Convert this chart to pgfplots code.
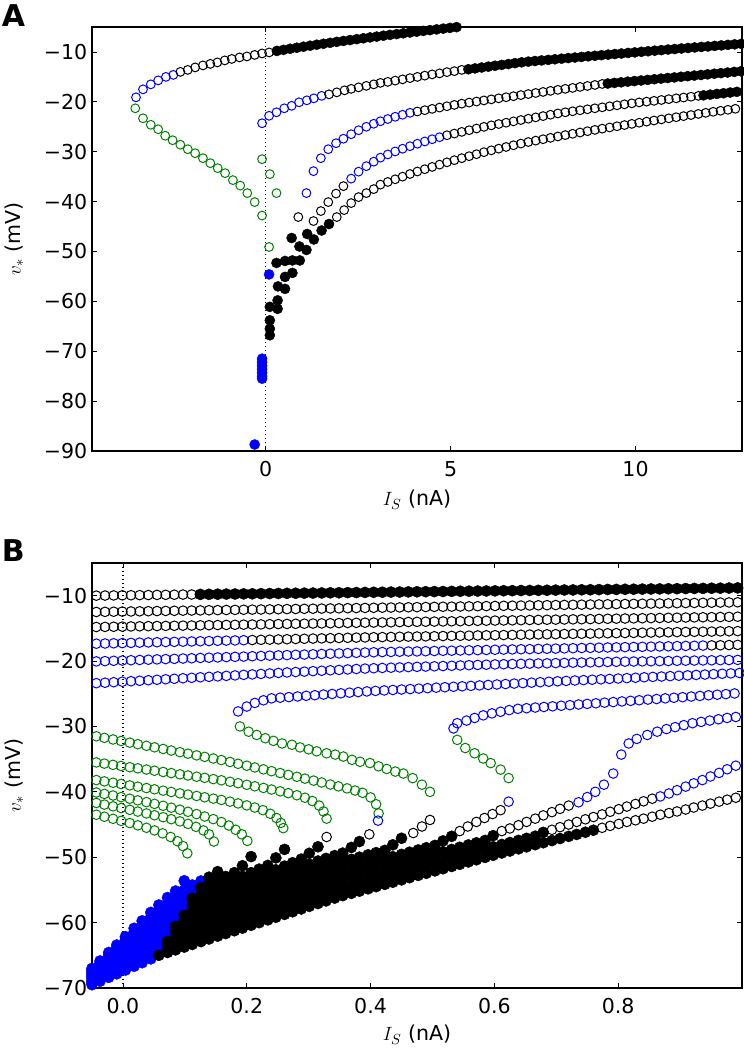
\documentclass[border=0pt]{standalone}
\usepackage{fontspec}
\setmainfont{DejaVu Sans}
\usepackage{pgfplots}
\usepackage{pgfplotstable}
\pgfplotsset{compat=1.18}
\definecolor{mblue}{rgb}{0,0,1}
\definecolor{mgreen}{rgb}{0,0.5,0}

% lower branches (filled family) in panel B
\pgfplotstableread{
x c0 c1 c2 c3 c4 c5 c6 c7 c8 c9 c10
-0.050 -69.50 -69.25 -69.00 -68.75 -68.50 -68.25 -68.00 -67.75 -67.50 -67.25 -67.00
-0.037 -68.96 -68.65 -68.34 -68.03 -67.72 -67.41 -67.10 -66.79 -66.48 -66.17 -65.86
-0.023 -68.37 -67.99 -67.61 -67.23 -66.85 -66.47 -66.09 -65.71 -65.33 -64.95 -64.57
-0.010 -67.83 -67.39 -66.95 -66.51 -66.07 -65.63 -65.19 -64.75 -64.31 -63.87 -63.43
0.004 -67.25 -66.74 -66.23 -65.72 -65.21 -64.70 -64.19 -63.68 -63.17 -62.66 -62.15
0.018 -66.67 -66.09 -65.51 -64.93 -64.35 -63.77 -63.19 -62.61 -62.03 -61.45 -60.87
0.031 -66.13 -65.49 -64.85 -64.21 -63.57 -62.93 -62.29 -61.65 -61.01 -60.37 -59.73
0.045 -65.54 -64.83 -64.12 -63.41 -62.70 -61.99 -61.28 -60.57 -59.86 -59.15 -58.44
0.058 -65.00 -64.23 -63.46 -62.69 -61.92 -61.15 -60.38 -59.61 -58.84 -58.07 -57.30
0.072 -64.57 -63.73 -62.89 -62.05 -61.21 -60.37 -59.53 -58.69 -57.85 -57.01 -56.17
0.085 -64.17 -63.27 -62.37 -61.47 -60.57 -59.67 -58.77 -57.87 -56.97 -56.07 -55.17
0.099 -63.74 -62.77 -61.80 -60.83 -59.86 -58.89 -57.92 -56.95 -55.98 -55.01 -53.60
0.112 -63.34 -62.33 -61.32 -60.31 -59.30 -58.29 -57.28 -56.27 -55.26 -54.25 nan
0.126 -62.90 -61.87 -60.84 -59.81 -58.78 -57.75 -56.72 -55.69 -54.66 -53.63 nan
0.139 -62.50 -61.45 -60.40 -59.35 -58.30 -57.25 -56.20 -55.15 -54.10 -53.05 nan
0.153 -62.07 -61.00 -59.93 -58.86 -57.79 -56.72 -55.65 -54.58 -53.51 -52.20 nan
0.166 -61.67 -60.58 -59.49 -58.40 -57.31 -56.22 -55.13 -54.04 -52.95 nan nan
0.180 -61.24 -60.13 -59.02 -57.91 -56.80 -55.69 -54.58 -53.47 -52.36 nan nan
0.193 -60.84 -59.71 -58.58 -57.45 -56.32 -55.19 -54.06 -52.93 -51.30 nan nan
0.207 -60.41 -59.26 -58.11 -56.96 -55.81 -54.66 -53.51 -52.36 -49.90 nan nan
0.220 -60.01 -58.84 -57.67 -56.50 -55.33 -54.16 -52.99 -51.82 nan nan nan
0.234 -59.58 -58.39 -57.20 -56.01 -54.82 -53.63 -52.44 -51.25 nan nan nan
0.247 -59.18 -57.97 -56.76 -55.55 -54.34 -53.13 -51.92 -50.10 nan nan nan
0.261 -58.74 -57.51 -56.28 -55.05 -53.82 -52.59 -51.36 -48.80 nan nan nan
0.274 -58.34 -57.09 -55.84 -54.59 -53.34 -52.09 -50.84 nan nan nan nan
0.288 -57.91 -56.64 -55.37 -54.10 -52.83 -51.56 -50.29 nan nan nan nan
0.301 -57.51 -56.22 -54.93 -53.64 -52.35 -51.06 -49.40 nan nan nan nan
0.315 -57.08 -55.78 -54.48 -53.18 -51.88 -50.58 -48.40 nan nan nan nan
0.328 -56.68 -55.38 -54.08 -52.78 -51.48 -50.18 nan nan nan nan nan
0.342 -56.25 -54.95 -53.65 -52.35 -51.05 -49.75 nan nan nan nan nan
0.355 -55.87 -54.57 -53.27 -51.97 -50.67 -49.37 nan nan nan nan nan
0.369 -55.52 -54.22 -52.92 -51.62 -50.32 -48.50 nan nan nan nan nan
0.382 -55.19 -53.89 -52.59 -51.29 -49.99 -47.60 nan nan nan nan nan
0.396 -54.83 -53.53 -52.23 -50.93 -49.63 nan nan nan nan nan nan
0.409 -54.50 -53.20 -51.90 -50.60 -49.30 nan nan nan nan nan nan
0.423 -54.15 -52.85 -51.55 -50.25 -48.95 nan nan nan nan nan nan
0.436 -53.82 -52.52 -51.22 -49.92 -48.10 nan nan nan nan nan nan
0.450 -53.46 -52.16 -50.86 -49.56 -47.10 nan nan nan nan nan nan
0.463 -53.13 -51.83 -50.53 -49.23 nan nan nan nan nan nan nan
0.477 -52.78 -51.48 -50.18 -48.88 nan nan nan nan nan nan nan
0.490 -52.45 -51.15 -49.85 -48.55 nan nan nan nan nan nan nan
0.504 -52.09 -50.79 -49.49 -48.19 nan nan nan nan nan nan nan
0.517 -51.76 -50.46 -49.16 -47.50 nan nan nan nan nan nan nan
0.531 -51.41 -50.11 -48.81 -46.80 nan nan nan nan nan nan nan
0.544 -51.08 -49.78 -48.48 nan nan nan nan nan nan nan nan
0.558 -50.72 -49.42 -48.12 nan nan nan nan nan nan nan nan
0.571 -50.39 -49.09 -47.79 nan nan nan nan nan nan nan nan
0.585 -50.03 -48.73 -47.43 nan nan nan nan nan nan nan nan
0.598 -49.70 -48.40 -46.70 nan nan nan nan nan nan nan nan
0.612 -49.35 -48.05 nan nan nan nan nan nan nan nan nan
0.625 -49.05 -47.75 nan nan nan nan nan nan nan nan nan
0.639 -48.72 -47.42 nan nan nan nan nan nan nan nan nan
0.652 -48.41 -47.11 nan nan nan nan nan nan nan nan nan
0.666 -48.08 -46.78 nan nan nan nan nan nan nan nan nan
0.679 -47.78 -46.20 nan nan nan nan nan nan nan nan nan
0.693 -47.45 nan nan nan nan nan nan nan nan nan nan
0.706 -47.14 nan nan nan nan nan nan nan nan nan nan
0.720 -46.81 nan nan nan nan nan nan nan nan nan nan
0.733 -46.51 nan nan nan nan nan nan nan nan nan nan
0.747 -46.18 nan nan nan nan nan nan nan nan nan nan
0.760 -45.87 nan nan nan nan nan nan nan nan nan nan
}\chains

% upper horizontal rows in panel B
\pgfplotstableread{
x r1 r2 r3 r4 r5 r6
-0.043 -9.99 -12.49 -14.79 -17.34 -20.05 -23.38
-0.029 -9.98 -12.47 -14.77 -17.31 -20.01 -23.31
-0.015 -9.96 -12.45 -14.75 -17.28 -19.96 -23.23
-0.001 -9.94 -12.43 -14.73 -17.25 -19.92 -23.16
0.013 -9.93 -12.41 -14.70 -17.22 -19.87 -23.08
0.027 -9.91 -12.39 -14.68 -17.18 -19.83 -23.01
0.041 -9.90 -12.37 -14.66 -17.15 -19.79 -22.93
0.055 -9.88 -12.35 -14.64 -17.12 -19.74 -22.86
0.069 -9.87 -12.33 -14.62 -17.09 -19.70 -22.78
0.083 -9.85 -12.31 -14.60 -17.06 -19.66 -22.71
0.097 -9.83 -12.29 -14.58 -17.03 -19.61 -22.63
0.111 -9.82 -12.27 -14.56 -17.00 -19.57 -22.56
0.125 -9.80 -12.25 -14.53 -16.97 -19.52 -22.48
0.139 -9.79 -12.23 -14.51 -16.94 -19.48 -22.41
0.153 -9.77 -12.21 -14.49 -16.90 -19.44 -22.34
0.167 -9.75 -12.19 -14.47 -16.87 -19.39 -22.26
0.181 -9.74 -12.17 -14.45 -16.84 -19.35 -22.19
0.195 -9.72 -12.15 -14.43 -16.81 -19.31 -22.11
0.209 -9.71 -12.13 -14.41 -16.78 -19.26 -22.04
0.223 -9.69 -12.11 -14.39 -16.75 -19.22 -21.96
0.237 -9.67 -12.09 -14.36 -16.72 -19.17 -21.89
0.251 -9.66 -12.07 -14.34 -16.69 -19.13 -21.81
0.265 -9.64 -12.05 -14.32 -16.66 -19.09 -21.74
0.279 -9.63 -12.03 -14.30 -16.62 -19.04 -21.67
0.293 -9.61 -12.01 -14.28 -16.59 -19.00 -21.61
0.307 -9.60 -11.99 -14.26 -16.56 -18.96 -21.54
0.321 -9.58 -11.97 -14.24 -16.53 -18.91 -21.48
0.335 -9.56 -11.95 -14.21 -16.50 -18.87 -21.41
0.349 -9.55 -11.93 -14.19 -16.47 -18.83 -21.35
0.363 -9.53 -11.91 -14.17 -16.44 -18.78 -21.28
0.377 -9.52 -11.89 -14.15 -16.41 -18.74 -21.21
0.391 -9.50 -11.87 -14.13 -16.38 -18.69 -21.15
0.405 -9.48 -11.85 -14.11 -16.35 -18.65 -21.09
0.419 -9.47 -11.83 -14.09 -16.33 -18.62 -21.05
0.433 -9.45 -11.81 -14.07 -16.31 -18.60 -21.01
0.447 -9.44 -11.79 -14.04 -16.28 -18.57 -20.97
0.461 -9.42 -11.77 -14.02 -16.26 -18.54 -20.92
0.475 -9.40 -11.75 -14.00 -16.24 -18.52 -20.88
0.489 -9.39 -11.73 -13.98 -16.22 -18.49 -20.84
0.503 -9.37 -11.71 -13.96 -16.20 -18.46 -20.80
0.517 -9.36 -11.69 -13.94 -16.17 -18.43 -20.76
0.531 -9.34 -11.67 -13.92 -16.15 -18.41 -20.72
0.545 -9.32 -11.65 -13.90 -16.13 -18.38 -20.67
0.559 -9.31 -11.63 -13.87 -16.11 -18.35 -20.63
0.573 -9.29 -11.61 -13.85 -16.08 -18.33 -20.59
0.587 -9.28 -11.59 -13.83 -16.06 -18.30 -20.55
0.601 -9.26 -11.57 -13.81 -16.04 -18.27 -20.51
0.615 -9.24 -11.55 -13.79 -16.02 -18.25 -20.48
0.629 -9.23 -11.53 -13.77 -16.00 -18.22 -20.45
0.643 -9.21 -11.51 -13.75 -15.97 -18.19 -20.42
0.657 -9.20 -11.49 -13.72 -15.95 -18.17 -20.39
0.671 -9.18 -11.47 -13.70 -15.93 -18.14 -20.36
0.685 -9.17 -11.45 -13.68 -15.91 -18.11 -20.34
0.699 -9.15 -11.43 -13.66 -15.89 -18.09 -20.31
0.713 -9.13 -11.41 -13.64 -15.86 -18.06 -20.28
0.727 -9.12 -11.39 -13.62 -15.84 -18.03 -20.25
0.741 -9.10 -11.37 -13.60 -15.82 -18.00 -20.22
0.755 -9.09 -11.35 -13.58 -15.80 -17.98 -20.20
0.769 -9.07 -11.33 -13.55 -15.77 -17.95 -20.17
0.783 -9.05 -11.31 -13.53 -15.75 -17.92 -20.14
0.797 -9.04 -11.29 -13.51 -15.73 -17.90 -20.11
0.811 -9.02 -11.27 -13.49 -15.71 -17.87 -20.09
0.825 -9.01 -11.25 -13.47 -15.69 -17.84 -20.07
0.839 -8.99 -11.23 -13.45 -15.66 -17.82 -20.05
0.853 -8.97 -11.21 -13.43 -15.64 -17.79 -20.03
0.867 -8.96 -11.19 -13.41 -15.62 -17.76 -20.01
0.881 -8.94 -11.17 -13.38 -15.60 -17.74 -19.99
0.895 -8.93 -11.15 -13.36 -15.57 -17.71 -19.96
0.909 -8.91 -11.13 -13.34 -15.55 -17.68 -19.94
0.923 -8.89 -11.11 -13.32 -15.53 -17.66 -19.92
0.937 -8.88 -11.09 -13.30 -15.51 -17.63 -19.90
0.951 -8.86 -11.07 -13.28 -15.49 -17.60 -19.88
0.965 -8.85 -11.05 -13.26 -15.46 -17.58 -19.86
0.979 -8.83 -11.03 -13.24 -15.44 -17.55 -19.84
0.993 -8.81 -11.01 -13.21 -15.42 -17.52 -19.82
}\rows

\begin{document}
\begin{tikzpicture}
\useasboundingbox (0,0) rectangle (557.25pt,787.5pt);
\pgfplotsset{
  panel/.style={scale only axis, width=487.5pt,
    axis line style={line width=0.85pt},
    tick style={line width=0.6pt,black}, major tick length=4pt, tick align=inside,
    tick label style={font=\fontsize{15.4}{18}\selectfont},
    label style={font=\fontsize{15.4}{18}\selectfont},
    xticklabel style={anchor=base, yshift=-19pt},
    ylabel style={at={(axis description cs:-0.1097,0.5)}, anchor=base},
  },
  kA/.style={only marks, mark=o, mark size=3.3pt, mark options={draw=black, line width=0.75pt}},
  bA/.style={only marks, mark=o, mark size=3.3pt, mark options={draw=mblue, line width=0.75pt}},
  gA/.style={only marks, mark=o, mark size=3.3pt, mark options={draw=mgreen, line width=0.75pt}},
  KA/.style={only marks, mark=*, mark size=3.8pt, mark options={draw=black, fill=black, line width=0.3pt}},
  BA/.style={only marks, mark=*, mark size=3.8pt, mark options={draw=mblue, fill=mblue, line width=0.3pt}},
  kB/.style={only marks, mark=o, mark size=3.6pt, mark options={draw=black, line width=0.75pt}},
  bB/.style={only marks, mark=o, mark size=3.6pt, mark options={draw=mblue, line width=0.75pt}},
  gB/.style={only marks, mark=o, mark size=3.6pt, mark options={draw=mgreen, line width=0.75pt}},
  KB/.style={only marks, mark=*, mark size=4.2pt, mark options={draw=black, fill=black, line width=0.3pt}},
  BB/.style={only marks, mark=*, mark size=4.2pt, mark options={draw=mblue, fill=mblue, line width=0.3pt}},
  zeroline/.style={black, line width=1pt, dash pattern=on 1pt off 2pt},
}

% ================= Panel A =================
\begin{axis}[panel, at={(69pt,449.25pt)}, anchor=south west, height=318pt,
  xmin=-4.7, xmax=12.88, ymin=-90, ymax=-5,
  xtick={0,5,10}, xticklabels={0,5,10},
  ytick={-90,-80,-70,-60,-50,-40,-30,-20,-10},
  yticklabels={−90,−80,−70,−60,−50,−40,−30,−20,−10},
  xlabel={$I_S$ (nA)}, ylabel={$v_*$ (mV)},
  xlabel style={at={(axis description cs:0.5,-0.129)}, anchor=base},
]
\addplot[zeroline] coordinates {(0,-90) (0,-5)};
% green (open)
\addplot[gA] coordinates {(-3.53,-21.3)(-3.32,-23.3)(-3.11,-24.6)(-2.91,-25.5)(-2.72,-26.8)(-2.52,-27.7)(-2.31,-28.6)(-2.11,-29.5)(-1.91,-30.3)(-1.70,-31.3)(-1.50,-32.3)(-1.30,-33.3)(-1.10,-34.3)(-0.89,-35.7)(-0.69,-36.8)(-0.50,-38.3)(-0.30,-40.1)(-0.10,-42.8)
 (-0.10,-31.5)(0.11,-34.5)(0.29,-38.3)(0.09,-49.1)};
% blue (open)
\addplot[bA] coordinates {(-3.51,-19.1)(-3.32,-17.5)(-3.11,-16.5)(-2.91,-15.7)(-2.70,-15.0)(-2.50,-14.6)};
\addplot[bA] coordinates {(-0.10,-24.3)(0.09,-22.8)(0.29,-22.1)(0.50,-21.3)(0.70,-20.8)(0.90,-20.1)(1.11,-19.7)(1.30,-19.3)(1.51,-18.8)};
\addplot[bA] coordinates {(1.10,-38.3)(1.29,-33.9)(1.49,-31.3)(1.69,-29.5)(1.90,-28.3)(2.10,-27.4)(2.31,-26.5)(2.51,-25.7)(2.72,-25.0)(2.92,-24.4)(3.10,-23.9)(3.30,-23.45)(3.50,-23.0)(3.70,-22.6)(3.90,-22.2)};
\addplot[bA] coordinates {(2.31,-35.4)(2.51,-34.0)(2.72,-32.9)(2.92,-32.0)(3.10,-31.2)(3.30,-30.55)(3.50,-29.95)(3.70,-29.4)(3.90,-28.9)(4.10,-28.4)(4.30,-27.95)(4.50,-27.5)(4.70,-27.1)};
% black (open)
\addplot[kA] coordinates {(-2.31,-14.0)(-2.11,-13.6)(-1.91,-13.1)(-1.70,-12.7)(-1.50,-12.4)(-1.31,-12.1)(-1.11,-11.7)(-0.92,-11.4)(-0.71,-11.1)(-0.51,-10.9)(-0.30,-10.6)(-0.10,-10.3)(0.09,-10.1)};
\addplot[kA] coordinates {(1.71,-18.5)(1.92,-18.1)(2.13,-17.7)(2.31,-17.4)(2.51,-17.1)(2.72,-16.8)(2.92,-16.5)(3.10,-16.2)(3.30,-16.0)(3.50,-15.75)(3.70,-15.5)(3.90,-15.25)(4.10,-15.0)(4.30,-14.75)(4.50,-14.5)(4.70,-14.3)(4.90,-14.05)(5.10,-13.85)(5.30,-13.6)};
\addplot[kA] coordinates {(4.10,-21.94)(4.30,-21.68)(4.50,-21.41)(4.70,-21.15)(4.90,-20.89)(5.10,-20.62)(5.30,-20.37)(5.50,-20.15)(5.70,-19.94)(5.90,-19.72)(6.10,-19.51)(6.30,-19.30)(6.50,-19.08)(6.70,-18.87)(6.90,-18.65)(7.10,-18.44)(7.30,-18.23)(7.50,-18.02)(7.70,-17.81)(7.90,-17.60)(8.10,-17.40)(8.30,-17.21)(8.50,-17.01)(8.70,-16.82)(8.90,-16.62)(9.10,-16.42)};
\addplot[kA] coordinates {(0.88,-43.1)(1.29,-43.9)(1.49,-41.9)(1.69,-40.1)(1.90,-38.4)(2.10,-36.9)
 (4.90,-26.70)(5.10,-26.36)(5.30,-26.03)(5.50,-25.69)(5.70,-25.35)(5.90,-25.02)(6.10,-24.72)(6.30,-24.45)(6.50,-24.19)(6.70,-23.92)(6.90,-23.65)(7.10,-23.39)(7.30,-23.12)(7.50,-22.86)(7.70,-22.59)(7.90,-22.33)(8.10,-22.10)(8.30,-21.90)(8.50,-21.70)(8.70,-21.50)(8.90,-21.30)(9.10,-21.10)(9.30,-20.90)(9.50,-20.70)(9.70,-20.50)(9.90,-20.30)(10.10,-20.12)(10.30,-19.96)(10.50,-19.80)(10.70,-19.63)(10.90,-19.47)(11.10,-19.30)(11.30,-19.14)(11.50,-18.98)(11.70,-18.81)};
\addplot[kA] coordinates {(1.92,-43.1)(2.12,-41.7)(2.31,-40.3)(2.51,-39.1)(2.72,-38.3)(2.92,-37.5)(3.10,-36.6)(3.30,-36.07)(3.50,-35.53)(3.70,-35.00)(3.90,-34.47)(4.10,-33.97)(4.30,-33.51)(4.50,-33.05)(4.70,-32.59)(4.90,-32.13)(5.10,-31.70)(5.30,-31.30)(5.50,-30.90)(5.70,-30.50)(5.90,-30.10)(6.10,-29.73)(6.30,-29.39)(6.50,-29.05)(6.70,-28.71)(6.90,-28.37)(7.10,-28.06)(7.30,-27.78)(7.50,-27.50)(7.70,-27.22)(7.90,-26.94)(8.10,-26.67)(8.30,-26.41)(8.50,-26.15)(8.70,-25.89)(8.90,-25.63)(9.10,-25.38)(9.30,-25.14)(9.50,-24.90)(9.70,-24.66)(9.90,-24.42)(10.10,-24.19)(10.30,-23.97)(10.50,-23.75)(10.70,-23.53)(10.90,-23.31)(11.10,-23.09)(11.30,-22.87)(11.50,-22.65)(11.70,-22.43)(11.90,-22.21)(12.10,-22.00)(12.30,-21.80)(12.50,-21.60)(12.70,-21.40)(12.90,-21.20)};
% black (filled)
\addplot[KA] coordinates {(0.30,-9.80)(0.48,-9.58)(0.66,-9.36)(0.84,-9.16)(1.02,-8.95)(1.20,-8.75)(1.38,-8.55)(1.56,-8.36)(1.74,-8.17)(1.92,-7.98)(2.10,-7.80)(2.28,-7.62)(2.46,-7.44)(2.64,-7.26)(2.82,-7.09)(3.00,-6.92)(3.18,-6.75)(3.36,-6.58)(3.54,-6.42)(3.72,-6.26)(3.90,-6.10)(4.08,-5.94)(4.26,-5.78)(4.44,-5.63)(4.62,-5.48)(4.80,-5.33)(4.98,-5.18)(5.16,-5.03)(5.34,-4.88)(5.52,-4.74)};
\addplot[KA] coordinates {(5.48,-13.47)(5.66,-13.30)(5.84,-13.12)(6.02,-12.95)(6.20,-12.77)(6.38,-12.60)(6.56,-12.43)(6.74,-12.25)(6.92,-12.08)(7.10,-11.94)(7.28,-11.82)(7.46,-11.70)(7.64,-11.59)(7.82,-11.47)(8.00,-11.35)(8.18,-11.23)(8.36,-11.12)(8.54,-11.00)(8.72,-10.88)(8.90,-10.77)(9.08,-10.65)(9.26,-10.54)(9.44,-10.42)(9.62,-10.31)(9.80,-10.20)(9.98,-10.09)(10.16,-9.97)(10.34,-9.86)(10.52,-9.75)(10.70,-9.64)(10.88,-9.52)(11.06,-9.42)(11.24,-9.31)(11.42,-9.21)(11.60,-9.10)(11.78,-9.00)(11.96,-8.90)(12.14,-8.79)(12.32,-8.69)(12.50,-8.58)(12.68,-8.48)(12.86,-8.38)};
\addplot[KA] coordinates {(9.25,-16.33)(9.43,-16.21)(9.61,-16.09)(9.79,-15.96)(9.97,-15.84)(10.15,-15.72)(10.33,-15.60)(10.51,-15.47)(10.69,-15.35)(10.87,-15.23)(11.05,-15.11)(11.23,-14.98)(11.41,-14.86)(11.59,-14.74)(11.77,-14.62)(11.95,-14.49)(12.13,-14.37)(12.31,-14.25)(12.49,-14.13)(12.67,-14.00)(12.85,-13.88)};
\addplot[KA] coordinates {(11.84,-18.70)(12.02,-18.56)(12.20,-18.42)(12.38,-18.28)(12.56,-18.14)(12.74,-18.00)(12.92,-17.86)};
\addplot[KA] coordinates {(0.29,-52.3)(0.52,-51.9)(0.72,-51.8)(0.92,-51.8)(0.52,-55.1)(0.72,-54.3)(0.33,-57.0)(0.52,-57.5)(0.11,-61.1)(0.32,-59.8)(0.32,-61.5)(0.11,-63.8)(0.11,-65.5)(0.11,-66.8)(0.70,-47.3)(0.91,-49.0)(1.10,-49.7)(1.12,-46.5)(1.30,-47.6)(1.51,-45.8)(1.71,-44.5)};
% blue (filled)
\addplot[BA] coordinates {(0.09,-54.6)(-0.10,-71.5)(-0.10,-72.2)(-0.10,-72.9)(-0.10,-73.6)(-0.10,-74.3)(-0.10,-75.0)(-0.10,-75.5)(-0.30,-88.7)};
\end{axis}

% ================= Panel B =================
\begin{axis}[panel, at={(69pt,46.5pt)}, anchor=south west, height=318.75pt,
  xmin=-0.05, xmax=1.0, ymin=-70, ymax=-5,
  xtick={0,0.2,0.4,0.6,0.8}, xticklabels={0.0,0.2,0.4,0.6,0.8},
  ytick={-70,-60,-50,-40,-30,-20,-10},
  yticklabels={−70,−60,−50,−40,−30,−20,−10},
  xlabel={$I_S$ (nA)}, ylabel={$v_*$ (mV)},
  xlabel style={at={(axis description cs:0.5,-0.124)}, anchor=base},
]
\addplot[zeroline] coordinates {(0,-70) (0,-5)};
% horizontal rows
\addplot[kB, restrict x to domain=-1:0.118] table[x=x,y=r1] {\rows};
\addplot[KB, restrict x to domain=0.118:2] table[x=x,y=r1] {\rows};
\addplot[kB] table[x=x,y=r2] {\rows};
\addplot[kB] table[x=x,y=r3] {\rows};
\addplot[bB, restrict x to domain=-1:0.202] table[x=x,y=r4] {\rows};
\addplot[kB, restrict x to domain=0.202:2] table[x=x,y=r4] {\rows};
\addplot[bB, restrict x to domain=-1:0.944] table[x=x,y=r5] {\rows};
\addplot[kB, restrict x to domain=0.944:2] table[x=x,y=r5] {\rows};
\addplot[bB] table[x=x,y=r6] {\rows};
% upper branches starting at folds
\addplot[bB] coordinates {(0.186,-27.7)(0.200,-26.95)(0.213,-26.4)(0.227,-26.0)(0.240,-25.7)(0.254,-25.60)(0.268,-25.51)(0.282,-25.41)(0.296,-25.31)(0.310,-25.22)(0.324,-25.12)(0.338,-25.03)(0.352,-24.93)(0.366,-24.83)(0.380,-24.74)(0.394,-24.64)(0.408,-24.56)(0.422,-24.49)(0.436,-24.42)(0.450,-24.35)(0.464,-24.28)(0.478,-24.21)(0.492,-24.14)(0.506,-24.07)(0.520,-24.00)(0.534,-23.93)(0.548,-23.86)(0.562,-23.79)(0.576,-23.72)(0.590,-23.65)(0.604,-23.58)(0.618,-23.51)(0.632,-23.44)(0.646,-23.37)(0.660,-23.30)(0.674,-23.23)(0.688,-23.16)(0.702,-23.09)(0.716,-23.03)(0.730,-22.97)(0.744,-22.91)(0.758,-22.85)(0.772,-22.79)(0.786,-22.73)(0.800,-22.67)(0.814,-22.61)(0.828,-22.55)(0.842,-22.48)(0.856,-22.42)(0.870,-22.36)(0.884,-22.30)(0.898,-22.24)(0.912,-22.18)(0.926,-22.12)(0.940,-22.06)(0.954,-22.00)(0.968,-21.94)(0.982,-21.88)(0.996,-21.82)};
\addplot[bB] coordinates {(0.534,-30.3)(0.540,-29.5)(0.555,-29.1)(0.568,-28.7)(0.582,-28.3)(0.596,-28.0)(0.610,-27.75)(0.624,-27.5)(0.638,-27.3)(0.652,-27.21)(0.666,-27.11)(0.680,-27.02)(0.694,-26.92)(0.708,-26.83)(0.722,-26.74)(0.736,-26.64)(0.750,-26.55)(0.764,-26.46)(0.778,-26.36)(0.792,-26.27)(0.806,-26.17)(0.820,-26.08)(0.834,-25.99)(0.848,-25.89)(0.862,-25.80)(0.876,-25.70)(0.890,-25.61)(0.904,-25.52)(0.918,-25.42)(0.932,-25.33)(0.946,-25.23)(0.960,-25.14)(0.974,-25.05)(0.988,-24.95)};
% green middle branches
\addplot[gB] coordinates {(0.189,-30.0)(0.203,-30.8)(0.216,-31.3)(0.230,-31.8)(0.243,-32.2)(0.257,-32.6)(0.273,-32.8)(0.286,-33.2)(0.300,-33.5)(0.313,-33.8)(0.329,-34.1)(0.343,-34.3)(0.356,-34.6)(0.370,-35.1)(0.383,-35.4)(0.399,-35.6)(0.413,-36.1)(0.426,-36.5)(0.440,-36.9)(0.453,-37.2)(0.468,-37.9)(0.483,-38.9)(0.496,-40.0)};
\addplot[gB] coordinates {(0.540,-32.05)(0.553,-33.3)(0.568,-34.1)(0.582,-34.9)(0.594,-35.6)(0.610,-36.6)(0.623,-37.9)};
\addplot[gB] coordinates {(-0.043,-31.50)(-0.030,-31.74)(-0.016,-31.99)(-0.003,-32.22)(0.011,-32.47)(0.024,-32.71)(0.038,-32.96)(0.051,-33.19)(0.065,-33.44)(0.078,-33.68)(0.092,-33.93)(0.105,-34.16)(0.119,-34.42)(0.132,-34.65)(0.146,-34.90)(0.159,-35.14)(0.173,-35.43)(0.186,-35.71)(0.200,-36.00)(0.213,-36.27)(0.227,-36.56)(0.240,-36.84)(0.254,-37.13)(0.267,-37.40)(0.281,-37.70)(0.294,-37.98)(0.308,-38.28)(0.321,-38.57)(0.335,-38.88)(0.348,-39.16)(0.362,-39.47)(0.375,-39.80)(0.387,-40.15)(0.400,-40.85)(0.409,-41.90)(0.413,-43.30)};
\addplot[gB] coordinates {(-0.043,-35.50)(-0.030,-35.68)(-0.016,-35.87)(-0.003,-36.04)(0.011,-36.23)(0.024,-36.40)(0.038,-36.59)(0.051,-36.77)(0.065,-36.96)(0.078,-37.13)(0.092,-37.32)(0.105,-37.50)(0.119,-37.69)(0.132,-37.86)(0.146,-38.05)(0.159,-38.23)(0.173,-38.46)(0.186,-38.68)(0.200,-38.92)(0.213,-39.15)(0.227,-39.40)(0.240,-39.65)(0.254,-39.92)(0.267,-40.20)(0.281,-40.52)(0.294,-40.90)(0.306,-41.40)(0.317,-42.10)(0.324,-43.00)(0.329,-44.10)};
\addplot[gB] coordinates {(-0.043,-38.20)(-0.030,-38.40)(-0.016,-38.61)(-0.003,-38.80)(0.011,-39.01)(0.024,-39.21)(0.038,-39.42)(0.051,-39.61)(0.065,-39.82)(0.078,-40.02)(0.092,-40.23)(0.105,-40.42)(0.119,-40.63)(0.132,-40.83)(0.146,-41.04)(0.159,-41.24)(0.173,-41.50)(0.186,-41.77)(0.200,-42.07)(0.213,-42.40)(0.226,-42.80)(0.238,-43.35)(0.248,-44.00)(0.255,-44.75)(0.259,-45.55)};
\addplot[gB] coordinates {(-0.043,-40.10)(-0.030,-40.32)(-0.016,-40.56)(-0.003,-40.80)(0.011,-41.05)(0.024,-41.30)(0.038,-41.57)(0.051,-41.84)(0.065,-42.13)(0.078,-42.42)(0.092,-42.73)(0.105,-43.05)(0.119,-43.40)(0.132,-43.77)(0.146,-44.17)(0.159,-44.62)(0.171,-45.15)(0.182,-45.80)(0.192,-46.50)(0.201,-47.50)};
\addplot[gB] coordinates {(-0.043,-41.70)(-0.030,-41.95)(-0.016,-42.22)(-0.003,-42.48)(0.011,-42.75)(0.024,-43.02)(0.038,-43.30)(0.051,-43.58)(0.065,-43.88)(0.078,-44.18)(0.092,-44.52)(0.105,-44.90)(0.118,-45.35)(0.130,-45.90)(0.139,-46.50)(0.147,-47.60)};
\addplot[gB] coordinates {(-0.043,-43.50)(-0.030,-43.80)(-0.016,-44.12)(-0.003,-44.44)(0.011,-44.78)(0.024,-45.12)(0.038,-45.50)(0.051,-45.90)(0.064,-46.35)(0.077,-46.90)(0.088,-47.55)(0.097,-48.30)(0.104,-49.40)};
% open continuations of the lower branches
\addplot[kB] coordinates {(0.329,-46.9)(0.398,-46.5)(0.469,-46.3)(0.483,-45.3)(0.496,-44.3)(0.544,-46.0)(0.557,-45.3)(0.571,-44.6)(0.584,-44.0)(0.597,-43.4)(0.610,-42.8)
 (0.612,-46.0)(0.625,-45.6)(0.639,-45.1)(0.652,-44.6)(0.666,-44.1)(0.679,-43.6)(0.693,-43.1)(0.706,-42.6)(0.720,-42.1)
 (0.693,-45.8)(0.706,-45.4)(0.720,-45.0)(0.733,-44.6)(0.747,-44.2)(0.760,-43.85)(0.774,-43.45)(0.787,-43.05)(0.801,-42.65)(0.814,-42.25)(0.828,-41.85)(0.841,-41.45)(0.855,-41.05)
 (0.774,-45.5)(0.787,-45.2)(0.801,-44.9)(0.814,-44.6)(0.828,-44.35)(0.841,-44.1)(0.855,-43.8)(0.868,-43.5)(0.882,-43.25)(0.895,-43.0)(0.909,-42.7)(0.922,-42.4)(0.936,-42.1)(0.949,-41.8)(0.963,-41.5)(0.976,-41.2)(0.990,-40.9)};
\addplot[bB] coordinates {(0.412,-44.4)(0.623,-41.5)
 (0.736,-41.6)(0.750,-40.8)(0.763,-40.0)(0.777,-38.9)(0.792,-37.2)(0.805,-34.3)(0.817,-32.6)(0.830,-31.9)(0.847,-31.3)(0.863,-30.8)(0.878,-30.4)(0.892,-30.1)(0.906,-29.8)(0.920,-29.5)(0.934,-29.3)(0.948,-29.1)(0.962,-28.9)(0.976,-28.7)(0.990,-28.55)
 (0.868,-40.7)(0.882,-40.25)(0.895,-39.75)(0.909,-39.2)(0.922,-38.7)(0.936,-38.2)(0.949,-37.65)(0.963,-37.1)(0.976,-36.55)(0.990,-36.0)};
% lower branches: blue (filled) part
\addplot[BB, restrict x to domain=-1:0.051] table[x=x,y=c0] {\chains};
\addplot[BB, restrict x to domain=-1:0.065] table[x=x,y=c1] {\chains};
\addplot[BB, restrict x to domain=-1:0.065] table[x=x,y=c2] {\chains};
\addplot[BB, restrict x to domain=-1:0.078] table[x=x,y=c3] {\chains};
\addplot[BB, restrict x to domain=-1:0.078] table[x=x,y=c4] {\chains};
\addplot[BB, restrict x to domain=-1:0.092] table[x=x,y=c5] {\chains};
\addplot[BB, restrict x to domain=-1:0.105] table[x=x,y=c6] {\chains};
\addplot[BB, restrict x to domain=-1:0.105] table[x=x,y=c7] {\chains};
\addplot[BB, restrict x to domain=-1:0.119] table[x=x,y=c8] {\chains};
\addplot[BB, restrict x to domain=-1:0.132] table[x=x,y=c9] {\chains};
\addplot[BB] table[x=x,y=c10] {\chains};
% lower branches: black (filled) part
\addplot[KB, restrict x to domain=0.051:2] table[x=x,y=c0] {\chains};
\addplot[KB, restrict x to domain=0.065:2] table[x=x,y=c1] {\chains};
\addplot[KB, restrict x to domain=0.065:2] table[x=x,y=c2] {\chains};
\addplot[KB, restrict x to domain=0.078:2] table[x=x,y=c3] {\chains};
\addplot[KB, restrict x to domain=0.078:2] table[x=x,y=c4] {\chains};
\addplot[KB, restrict x to domain=0.092:2] table[x=x,y=c5] {\chains};
\addplot[KB, restrict x to domain=0.105:2] table[x=x,y=c6] {\chains};
\addplot[KB, restrict x to domain=0.105:2] table[x=x,y=c7] {\chains};
\addplot[KB, restrict x to domain=0.119:2] table[x=x,y=c8] {\chains};
\addplot[KB, restrict x to domain=0.132:2] table[x=x,y=c9] {\chains};
\end{axis}

\node[anchor=base west, inner sep=0pt, font=\fontsize{22.5}{26}\selectfont\bfseries] at (1.2pt,767.5pt) {A};
\node[anchor=base west, inner sep=0pt, font=\fontsize{22.5}{26}\selectfont\bfseries] at (1.2pt,366.2pt) {B};
\end{tikzpicture}
\end{document}
